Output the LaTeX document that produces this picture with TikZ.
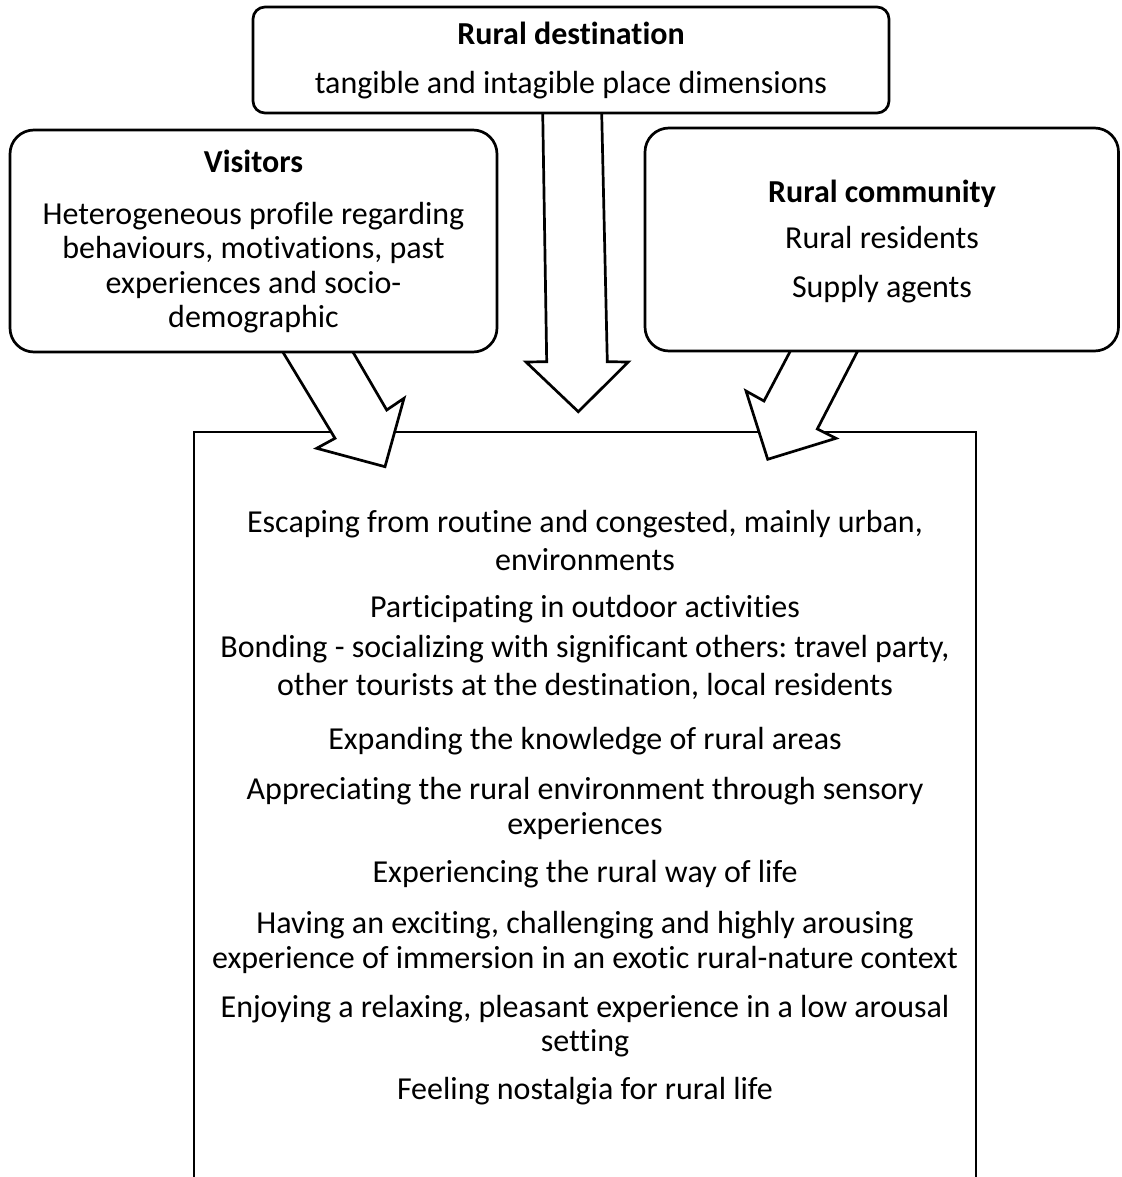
\documentclass[tikz,border=0pt]{standalone}
\usepackage{fontspec}
\setmainfont{Carlito}[Ligatures=NoCommon]
\frenchspacing
\begin{document}
\begin{tikzpicture}[x=1pt,y=-1pt, line width=2.7pt, line join=miter,
  rbox/.style={draw, fill=white, rectangle, rounded corners=#1, inner sep=0pt},
  txt/.style={anchor=base, inner sep=0pt, font=\fontsize{32}{39}\selectfont},
  btxt/.style={txt, font=\fontsize{32}{39}\selectfont\bfseries},
  blockarrow/.style={draw, fill=white, line join=miter}]
\useasboundingbox (0,0) rectangle (1121,1177);

% main box (open at the bottom)
\coordinate (bbl) at (194,1177);
\coordinate (btl) at (194,432);
\coordinate (btr) at (976,432);
\coordinate (bbr) at (976,1177);
\draw (bbl) -- (btl) -- (btr) -- (bbr);

% block arrows
\draw[blockarrow] (542.5,100) -- (546.7,361.7) -- (526,362) -- (578.3,411.7) -- (628.3,362) -- (607.3,361.7) -- (601.4,100);
\draw[blockarrow] (276.8,342) -- (335,438.3) -- (316.7,448.3) -- (385,466.7) -- (404,398.3) -- (386.7,410) -- (347.1,342);
\draw[blockarrow] (795.1,342) -- (764,401) -- (746,391) -- (767.7,459.3) -- (836,438.3) -- (817.3,429) -- (862.3,342);

% source boxes
\node[rbox=12pt, minimum width=636pt, minimum height=106pt] (dest) at (571,60) {};
\node[rbox=24pt, minimum width=487pt, minimum height=222pt] (vis) at (253.5,241) {};
\node[rbox=24pt, minimum width=473.5pt, minimum height=223pt] (comm) at (881.75,239.5) {};

% texts of the top box
\node[btxt] (destT) at (571,45) {Rural destination};
\node[txt] (destA) at (571,94) {tangible and intagible place dimensions};

% visitors
\node[btxt] (visT) at (253.5,173) {Visitors};
\node[txt] (visA) at (253.5,224) {Heterogeneous profile regarding};
\node[txt] (visB) at (253.5,258.5) {behaviours, motivations, past};
\node[txt] (visC) at (253.5,293) {experiences and socio-};
\node[txt] (visD) at (253.5,327.5) {demographic};

% community
\node[btxt] (comT) at (882,202) {Rural community};
\node[txt] (comA) at (882,248) {Rural residents};
\node[txt] (comB) at (882,297) {Supply agents};

% experiences
\node[txt] (e1a) at (585,532) {Escaping from routine and congested, mainly urban,};
\node[txt] (e1b) at (585,570) {environments};
\node[txt] (e2) at (585,617) {Participating in outdoor activities};
\node[txt] (e3a) at (585,657) {Bonding - socializing with significant others: travel party,};
\node[txt] (e3b) at (585,695) {other tourists at the destination, local residents};
\node[txt] (e4) at (585,749) {Expanding the knowledge of rural areas};
\node[txt] (e5a) at (585,799) {Appreciating the rural environment through sensory};
\node[txt] (e5b) at (585,834) {experiences};
\node[txt] (e6) at (585,882) {Experiencing the rural way of life};
\node[txt] (e7a) at (585,933) {Having an exciting, challenging and highly arousing};
\node[txt] (e7b) at (585,968) {experience of immersion in an exotic rural-nature context};
\node[txt] (e8a) at (585,1017) {Enjoying a relaxing, pleasant experience in a low arousal};
\node[txt] (e8b) at (585,1051) {setting};
\node[txt] (e9) at (585,1099) {Feeling nostalgia for rural life};
\end{tikzpicture}
\end{document}
